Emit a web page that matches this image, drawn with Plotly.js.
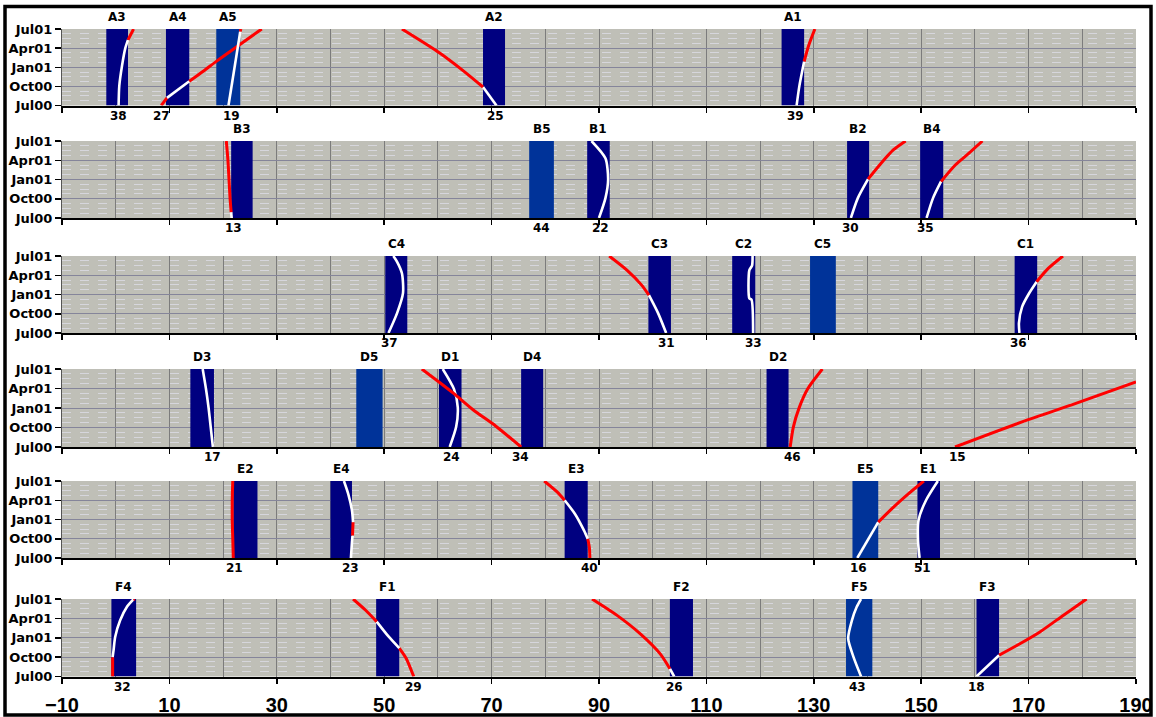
<!DOCTYPE html>
<html><head><meta charset="utf-8">
<script src="https://cdn.plot.ly/plotly-3.0.1.min.js"></script>
<style>html,body{margin:0;padding:0;background:#fff;}#chart{width:1156px;height:717px;}</style>
</head><body><div id="chart"></div>
<script>
// ---------- DATA ----------
const yTickVals = [0, 3, 6, 9, 12];
const yTickText = ['Jul00', 'Oct00', 'Jan01', 'Apr01', 'Jul01'];

// bars (start / end on the x scale) per row
const barsA = ['A3', 'A4', 'A5', 'A2', 'A1'];
const barsA_from = [-1.75, 9.36, 18.73, 68.4, 124.0];
const barsA_to   = [2.29, 13.7, 23.2, 72.5, 128.2];
const barsB = ['B3', 'B5', 'B1', 'B2', 'B4'];
const barsB_from = [21.5, 77.0, 87.8, 136.2, 149.8];
const barsB_to   = [25.5, 81.6, 92.0, 140.3, 154.1];
const barsC = ['C4', 'C3', 'C2', 'C5', 'C1'];
const barsC_from = [50.2, 99.2, 114.8, 129.3, 167.4];
const barsC_to   = [54.3, 103.4, 119.1, 134.1, 171.6];
const barsD = ['D3', 'D5', 'D1', 'D4', 'D2'];
const barsD_from = [13.9, 44.8, 60.2, 75.5, 121.2];
const barsD_to   = [18.3, 49.7, 64.4, 79.6, 125.3];
const barsE = ['E2', 'E4', 'E3', 'E5', 'E1'];
const barsE_from = [21.9, 40.0, 83.6, 137.2, 149.3];
const barsE_to   = [26.4, 44.0, 87.9, 142.0, 153.5];
const barsF = ['F4', 'F1', 'F2', 'F5', 'F3'];
const barsF_from = [-0.8, 48.5, 103.2, 136.0, 160.3];
const barsF_to   = [3.8, 52.8, 107.5, 140.9, 164.5];

// id labels under each row
const idsA = ['38', '27', '19', '25', '39'];
const idsA_x = [0.6, 8.5, 21.6, 70.7, 126.5];
const idsB = ['13', '44', '22', '30', '35'];
const idsB_x = [22.0, 79.3, 90.3, 136.8, 150.8];
const idsC = ['37', '31', '33', '36'];
const idsC_x = [50.9, 102.5, 118.7, 168.2];
const idsD = ['17', '24', '34', '46', '15'];
const idsD_x = [18.0, 62.5, 75.4, 126.0, 156.7];
const idsE = ['21', '23', '40', '16', '51'];
const idsE_x = [22.1, 43.7, 88.3, 138.3, 150.3];
const idsF = ['32', '29', '26', '43', '18'];
const idsF_x = [1.2, 55.5, 104.1, 138.1, 160.3];

// curves: x, month since Jul00, segment colour (w = inside own bar, r = outside)
const c38_x = [0.54, 0.67, 1.17, 1.79, 2.29, 3.33];
const c38_y = [0, 3.1, 6.2, 9.0, 10.3, 12];
const c38_s = 'wwwwr';
const c27_x = [8.49, 9.55, 13.7, 16.5, 18.86, 27.2];
const c27_y = [0, 1.2, 3.8, 5.5, 7.0, 12];
const c27_s = 'rwrrr';
const c19_x = [21.0, 23.2, 23.3];
const c19_y = [0, 11.6, 12];
const c19_s = 'wr';
const c25_x = [70.9, 68.4, 64.8, 60.4, 53.3];
const c25_y = [0, 2.9, 5.4, 8.2, 12];
const c25_s = 'wrrr';
const c39_x = [126.8, 127.3, 128.2, 129.0, 130.2];
const c39_y = [0, 3.0, 6.9, 9.3, 12];
const c39_s = 'wwrr';

const c13_x = [21.6, 21.5, 21.3, 21.1, 20.9, 20.6];
const c13_y = [0, 0.9, 3, 6, 9, 12];
const c13_s = 'wrrrr';
const c22_x = [90.0, 91.2, 91.7, 91.2, 88.6];
const c22_y = [0, 3.1, 6, 9.3, 12];
const c22_s = 'wwww';
const c30_x = [136.9, 138.2, 140.1, 142.3, 144.8, 147.1];
const c30_y = [0, 3.1, 6.05, 8.3, 10.6, 12];
const c30_s = 'wwrrr';
const c35_x = [151.0, 152.2, 153.7, 156.4, 158.9, 161.4];
const c35_y = [0, 3.1, 5.7, 8.3, 10.1, 12];
const c35_s = 'wwrrr';

const c37_x = [50.8, 52.4, 53.5, 53.3, 52.4, 51.7];
const c37_y = [0, 3.1, 6.2, 9.3, 11.1, 12];
const c37_s = 'wwwww';
const c31_x = [102.5, 101.0, 99.3, 97.9, 95.2, 91.9];
const c31_y = [0, 3.1, 5.9, 7.5, 9.8, 12];
const c31_s = 'wwrrr';
const c33_x = [118.7, 118.4, 118.0, 118.0, 118.5, 118.6];
const c33_y = [0, 5.2, 5.4, 9.8, 10.5, 12];
const c33_s = 'wwwww';
const c36_x = [168.3, 168.2, 168.8, 170.1, 171.5, 173.7, 176.4];
const c36_y = [0, 1.55, 4.1, 6.2, 8.0, 10.1, 12];
const c36_s = 'wwwwrr';

const c17_x = [18.1, 17.7, 17.3, 16.8, 16.2];
const c17_y = [0, 3, 6, 9, 12];
const c17_s = 'wwww';
const c24_x = [62.2, 63.4, 63.7, 63.0, 60.9];
const c24_y = [0, 3.1, 6.1, 8.9, 12];
const c24_s = 'wwww';
const c34_x = [75.5, 70.8, 66.6, 63.0, 60.2, 57.0];
const c34_y = [0, 3.2, 5.7, 8.2, 10, 12];
const c34_s = 'rrrrr';
const c46_x = [125.6, 126.2, 127.3, 128.9, 131.6];
const c46_y = [0, 3.1, 6.1, 9.0, 12];
const c46_s = 'rrrr';
const c15_x = [156.3, 168.9, 178.8, 190];
const c15_y = [0, 3.9, 6.7, 10.0];
const c15_s = 'rrr';

const c21_x = [21.9, 21.8, 21.7, 21.7, 21.8];
const c21_y = [0, 3, 6, 9, 12];
const c21_s = 'rrrr';
const c23_x = [43.8, 44.0, 44.1, 44.2, 44.0, 43.3, 42.5];
const c23_y = [0, 2.5, 3.5, 5.6, 7.4, 10, 12];
const c23_s = 'wwrwww';
const c40_x = [88.3, 88.2, 87.9, 87.2, 85.5, 83.6, 82.2, 79.8];
const c40_y = [0, 1.7, 3.0, 4.3, 6.9, 9.0, 10.3, 12];
const c40_s = 'rrwwwrr';
const c16_x = [138.1, 142.0, 144.8, 147.6, 150.5];
const c16_y = [0, 5.6, 7.9, 10.0, 12];
const c16_s = 'wrrr';
const c51_x = [149.7, 149.4, 149.5, 150.9, 153.1];
const c51_y = [0, 2.8, 5.9, 9.0, 12];
const c51_s = 'wwww';

const c32_x = [-0.57, -0.57, -0.4, -0.1, 0.83, 2.1, 3.3, 3.6];
const c32_y = [0, 3.0, 4.05, 6.1, 8.7, 10.8, 11.95, 12];
const c32_s = 'rwwwwwr';
const c29_x = [55.5, 54.1, 52.8, 50.8, 48.6, 46.5, 44.2];
const c29_y = [0, 2.8, 4.4, 6.2, 8.5, 10.3, 12];
const c29_s = 'rrwwrr';
const c26_x = [104.0, 103.2, 101.4, 97.7, 93.3, 88.7];
const c26_y = [0, 1.2, 3.5, 6.6, 9.5, 12];
const c26_s = 'wrrrr';
const c43_x = [138.8, 137.4, 136.4, 137.1, 138.0, 138.8];
const c43_y = [0, 3.0, 5.9, 8.7, 10.8, 12];
const c43_s = 'wwwww';
const c18_x = [160.3, 164.5, 167.8, 172.1, 176.5, 180.8];
const c18_y = [0, 3.3, 4.8, 6.9, 9.5, 12];
const c18_s = 'wrrrr';

// ---------- BUILD ----------
const rows = [
  {bars: barsA, from: barsA_from, to: barsA_to, ids: idsA, idx: idsA_x,
   curves: [[c38_x, c38_y, c38_s], [c27_x, c27_y, c27_s], [c19_x, c19_y, c19_s], [c25_x, c25_y, c25_s], [c39_x, c39_y, c39_s]]},
  {bars: barsB, from: barsB_from, to: barsB_to, ids: idsB, idx: idsB_x,
   curves: [[c13_x, c13_y, c13_s], [c22_x, c22_y, c22_s], [c30_x, c30_y, c30_s], [c35_x, c35_y, c35_s]]},
  {bars: barsC, from: barsC_from, to: barsC_to, ids: idsC, idx: idsC_x,
   curves: [[c37_x, c37_y, c37_s], [c31_x, c31_y, c31_s], [c33_x, c33_y, c33_s], [c36_x, c36_y, c36_s]]},
  {bars: barsD, from: barsD_from, to: barsD_to, ids: idsD, idx: idsD_x,
   curves: [[c17_x, c17_y, c17_s], [c24_x, c24_y, c24_s], [c34_x, c34_y, c34_s], [c46_x, c46_y, c46_s], [c15_x, c15_y, c15_s]]},
  {bars: barsE, from: barsE_from, to: barsE_to, ids: idsE, idx: idsE_x,
   curves: [[c21_x, c21_y, c21_s], [c23_x, c23_y, c23_s], [c40_x, c40_y, c40_s], [c16_x, c16_y, c16_s], [c51_x, c51_y, c51_s]]},
  {bars: barsF, from: barsF_from, to: barsF_to, ids: idsF, idx: idsF_x,
   curves: [[c32_x, c32_y, c32_s], [c29_x, c29_y, c29_s], [c26_x, c26_y, c26_s], [c43_x, c43_y, c43_s], [c18_x, c18_y, c18_s]]}
];

// pixel layout of rows (top, bottom)
const rowPx = [[29, 105.5], [141, 218], [256, 333], [369, 447], [481, 558], [599, 676.5]];
const H = 717, W = 1156, ML = 62, MR = 20;

function runs(xs, ys, seg) {
  const out = []; let start = 0;
  for (let k = 1; k <= seg.length; k++) {
    if (k === seg.length || seg[k] !== seg[start]) {
      out.push({c: seg[start], x: xs.slice(start, k + 1), y: ys.slice(start, k + 1)});
      start = k;
    }
  }
  return out;
}

const traces = [];
const annotations = [];
const layout = {
  width: W, height: H,
  margin: {l: ML, r: MR, t: 0, b: 0},
  paper_bgcolor: '#ffffff',
  plot_bgcolor: '#bfbfb7',
  showlegend: false,
  barmode: 'overlay',
  annotations: annotations,
  shapes: [{
    type: 'rect', xref: 'paper', yref: 'paper', layer: 'above',
    x0: (5 - ML) / (W - ML - MR), x1: (1151 - ML) / (W - ML - MR),
    y0: (H - 715) / H, y1: (H - 6.5) / H,
    line: {color: '#000000', width: 3.5}
  }]
};

rows.forEach((row, i) => {
  const n = i === 0 ? '' : String(i + 1);
  const xa = 'x' + n, ya = 'y' + n;
  const last = i === rows.length - 1;
  layout['xaxis' + n] = {
    domain: [0, 1], range: [-10, 190], anchor: ya,
    tick0: -10, dtick: 20, ticks: 'outside', ticklen: 5, tickwidth: 1.5, tickcolor: '#000',
    showline: true, linecolor: '#000', linewidth: 2,
    showgrid: true, gridcolor: '#7c7c7c', gridwidth: 1,
    minor: {tick0: -10, dtick: 10, showgrid: true, gridcolor: '#7c7c7c', gridwidth: 1},
    zeroline: false, showticklabels: last, ticklabelstandoff: 4,
    tickfont: {family: 'Liberation Sans, Arial, sans-serif', size: 20, color: '#000', weight: 'bold'},
    fixedrange: true, automargin: false
  };
  layout['yaxis' + n] = {
    domain: [(H - rowPx[i][1]) / H, (H - rowPx[i][0]) / H],
    range: [0, 12], anchor: xa,
    tickvals: yTickVals, ticktext: yTickText,
    ticks: 'outside', ticklen: 6, tickwidth: 1.5, tickcolor: '#000',
    showline: true, linecolor: '#555', linewidth: 1,
    showgrid: true, gridcolor: '#85859a', gridwidth: 1,
    minor: {dtick: 0.75, tick0: 0, showgrid: true, gridcolor: '#d6d6dc', gridwidth: 1, griddash: 'dash'},
    zeroline: false,
    tickfont: {family: 'DejaVu Sans, sans-serif', size: 13, color: '#000', weight: 'bold'},
    fixedrange: true, automargin: false
  };

  const centers = row.bars.map((b, k) => (row.from[k] + row.to[k]) / 2);
  const widths = row.bars.map((b, k) => row.to[k] - row.from[k]);
  traces.push({
    type: 'bar', x: centers, y: row.bars.map(() => 12), width: widths,
    marker: {color: row.bars.map(b => b.endsWith('5') ? '#003399' : '#000080'), line: {width: 0}},
    xaxis: xa, yaxis: ya, hoverinfo: 'skip'
  });

  row.curves.forEach(cv => {
    runs(cv[0], cv[1], cv[2]).forEach(r => {
      traces.push({
        type: 'scatter', mode: 'lines', x: r.x, y: r.y, xaxis: xa, yaxis: ya,
        line: {color: r.c === 'w' ? '#ffffff' : '#ff0000', width: r.c === 'w' ? 2.6 : 3, shape: 'spline', smoothing: 0.7},
        hoverinfo: 'skip'
      });
    });
  });

  row.bars.forEach((b, k) => {
    annotations.push({
      x: centers[k], y: 12, xref: xa, yref: ya, text: b, showarrow: false,
      yanchor: 'bottom', yshift: 3,
      font: {family: 'DejaVu Sans, sans-serif', size: 12, color: '#000', weight: 'bold'}
    });
  });
  row.ids.forEach((t, k) => {
    annotations.push({
      x: row.idx[k], y: 0, xref: xa, yref: ya, text: t, showarrow: false,
      yanchor: 'top', yshift: -1,
      font: {family: 'DejaVu Sans, sans-serif', size: 12, color: '#000', weight: 'bold'}
    });
  });
});

Plotly.newPlot('chart', traces, layout, {staticPlot: true, displayModeBar: false});
</script>
</body></html>
